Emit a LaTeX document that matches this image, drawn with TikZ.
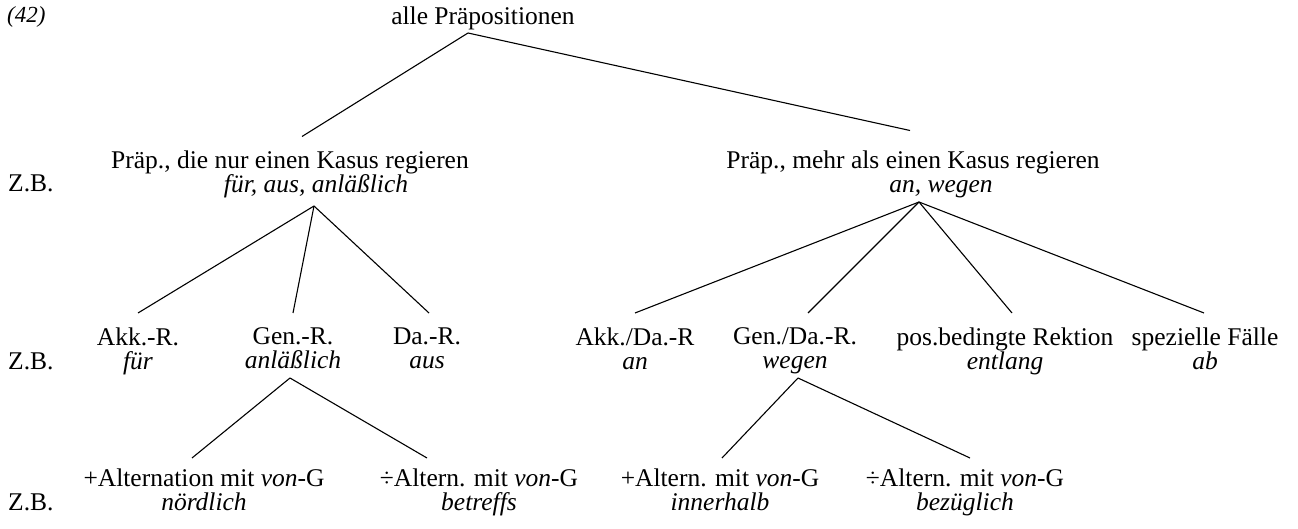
\documentclass[tikz,border=0pt]{standalone}
\usepackage{fontspec}
\setmainfont{Liberation Serif}
\newcommand{\treefont}{\fontsize{25.5}{24}\selectfont}
\begin{document}
\begin{tikzpicture}[
            x=1pt, y=-1pt,
            every node/.style={inner sep=0pt, font=\treefont, align=center},
            cat/.style={anchor=north},
            zb/.style={anchor=base west},
            branch/.style={draw, line width=1.1pt}
            ]
  \useasboundingbox (0,0) rectangle (1298,529);
  % top
  \node (num) [anchor=base west, font=\fontsize{23}{24}\selectfont\itshape] at (7,23) {(42)};
  \node (root) [anchor=base] at (483,25) {alle Präpositionen};
  % first level
  \node (eins) [cat] at (290,150.5) {Präp., die nur einen Kasus regieren\\\hspace*{52pt}\textit{für, aus, anläßlich}};
  \node (mehr) [cat] at (913,150.5) {Präp., mehr als einen Kasus regieren\\\hspace*{56pt}\textit{an, wegen}};
  \node (zb1) [zb] at (8,192) {Z.B.};
  % second level
  \node (akk) [cat] at (138,327.5) {Akk.-R.\\\textit{für}};
  \node (gen) [cat] at (293,327.5) {Gen.-R.\\\textit{anläßlich}};
  \node (da) [cat] at (427,327.5) {Da.-R.\\\textit{aus}};
  \node (akkda) [cat] at (635,327.5) {Akk./Da.-R\\\textit{an}};
  \node (genda) [cat] at (795,327.5) {Gen./Da.-R.\\\textit{wegen}};
  \node (pos) [cat] at (1005,327.5) {pos.bedingte Rektion\\\textit{entlang}};
  \node (spez) [cat] at (1205,327.5) {spezielle Fälle\\\textit{ab}};
  \node (zb2) [zb] at (8,369) {Z.B.};
  % third level
  \node (gplus) [cat] at (204,468.5) {+Alternation mit \textit{von}-G\\\textit{nördlich}};
  \node (gminus) [cat] at (479,468.5) {÷Altern. mit \textit{von}-G\\\textit{betreffs}};
  \node (gdplus) [cat] at (720,468.5) {+Altern. mit \textit{von}-G\\\textit{innerhalb}};
  \node (gdminus) [cat] at (965,468.5) {÷Altern. mit \textit{von}-G\\\textit{bezüglich}};
  \node (zb3) [zb] at (8,510) {Z.B.};
  % branching points
  \coordinate (root-b) at (468,33);
  \coordinate (eins-b) at (314,206);
  \coordinate (mehr-b) at (919,202);
  \coordinate (gen-b) at (290,378);
  \coordinate (genda-b) at (798,378);
  % branches
  \draw[branch] (root-b) -- ([xshift=12pt,yshift=14pt]eins.north);
  \draw[branch] (root-b) -- ([xshift=-3pt,yshift=20pt]mehr.north);
  \draw[branch] (eins-b) -- ([yshift=14.5pt]akk.north);
  \draw[branch] (eins-b) -- ([yshift=14.5pt]gen.north);
  \draw[branch] (eins-b) -- ([xshift=2pt,yshift=14.5pt]da.north);
  \draw[branch] (mehr-b) -- ([yshift=14.5pt]akkda.north);
  \draw[branch] (mehr-b) -- ([xshift=13pt,yshift=14.5pt]genda.north);
  \draw[branch] (mehr-b) -- ([xshift=7pt,yshift=14.5pt]pos.north);
  \draw[branch] (mehr-b) -- ([xshift=-1pt,yshift=14.5pt]spez.north);
  \draw[branch] (gen-b) -- ([xshift=-12pt,yshift=10.5pt]gplus.north);
  \draw[branch] (gen-b) -- ([xshift=-52pt,yshift=10.5pt]gminus.north);
  \draw[branch] (genda-b) -- ([xshift=2pt,yshift=10.5pt]gdplus.north);
  \draw[branch] (genda-b) -- ([xshift=5pt,yshift=10.5pt]gdminus.north);
\end{tikzpicture}
\end{document}
